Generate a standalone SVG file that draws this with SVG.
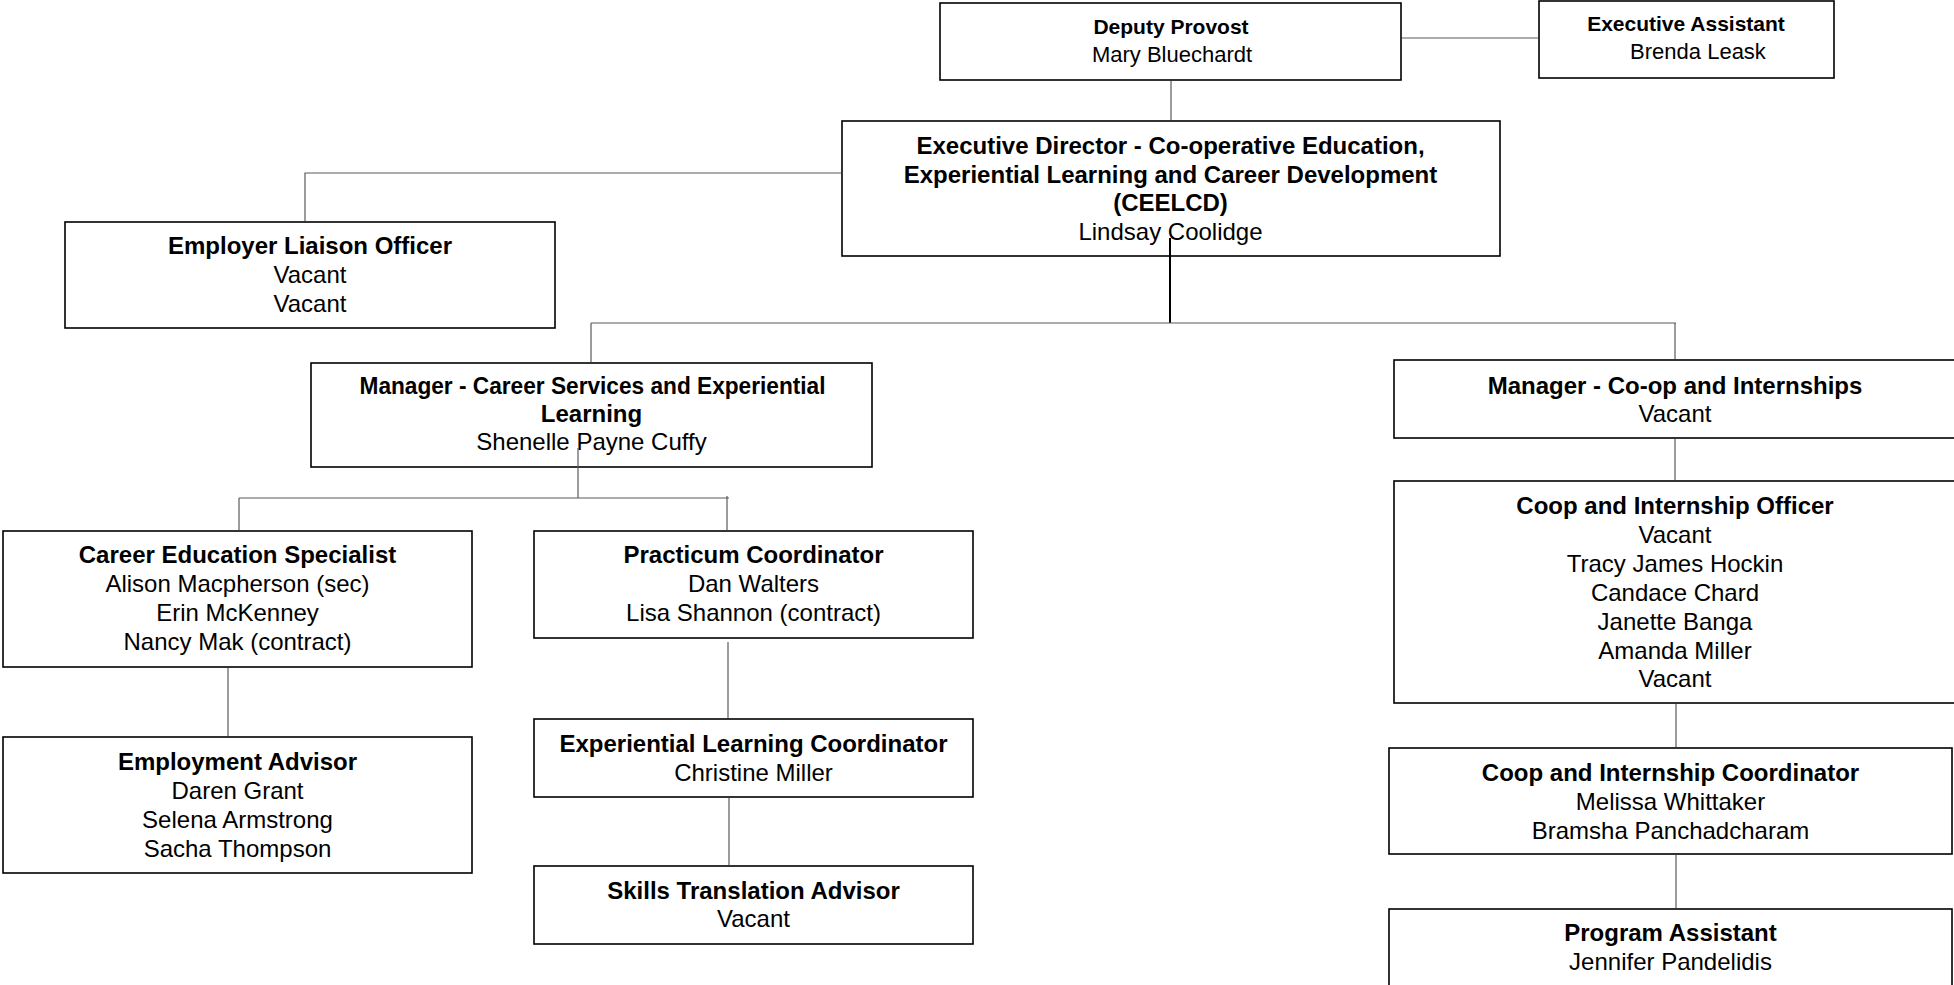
<svg xmlns="http://www.w3.org/2000/svg" width="1954" height="985" viewBox="0 0 1954 985">
<style>
.box{fill:#fff;stroke:#000;stroke-width:1.6}
.c{stroke:#5a5a5a;stroke-width:1.2;fill:none}
.t{font-family:"Liberation Sans",Arial,sans-serif;font-size:24px;fill:#000;text-anchor:middle}
.b{font-weight:bold}
.k{font-family:"Liberation Sans",Arial,sans-serif;font-size:21px;fill:#000;text-anchor:middle}
.kr{font-size:22px}
</style>
<rect width="1954" height="985" fill="#fff"/>
<g id="deputy-provost">
<rect class="box" x="940" y="3" width="461" height="77"/>
<text class="k b" x="1171" y="34">Deputy Provost</text>
<text class="k kr" x="1172" y="62">Mary Bluechardt</text>
</g>
<g id="executive-assistant">
<rect class="box" x="1539" y="1" width="295" height="77"/>
<text class="k b" x="1686" y="31">Executive Assistant</text>
<text class="k kr" x="1698" y="59">Brenda Leask</text>
</g>
<g id="executive-director">
<rect class="box" x="842" y="121" width="658" height="135"/>
<text class="t b" x="1170.5" y="154">Executive Director - Co-operative Education,</text>
<text class="t b" x="1170.5" y="182.5">Experiential Learning and Career Development</text>
<text class="t b" x="1170.5" y="211">(CEELCD)</text>
<text class="t" x="1170.5" y="239.5">Lindsay Coolidge</text>
</g>
<g id="employer-liaison">
<rect class="box" x="65" y="222" width="490" height="106"/>
<text class="t b" x="310" y="254">Employer Liaison Officer</text>
<text class="t" x="310" y="283">Vacant</text>
<text class="t" x="310" y="311.5">Vacant</text>
</g>
<g id="manager-career">
<rect class="box" x="311" y="363" width="561" height="104"/>
<text class="t b" x="592.5" y="394" textLength="466" lengthAdjust="spacingAndGlyphs">Manager - Career Services and Experiential</text>
<text class="t b" x="591.5" y="422">Learning</text>
<text class="t" x="591.5" y="450">Shenelle Payne Cuffy</text>
</g>
<g id="manager-coop">
<rect class="box" x="1394" y="360" width="570" height="78"/>
<text class="t b" x="1675" y="393.5">Manager - Co-op and Internships</text>
<text class="t" x="1675" y="422">Vacant</text>
</g>
<g id="career-education">
<rect class="box" x="3" y="531" width="469" height="136"/>
<text class="t b" x="237.5" y="563">Career Education Specialist</text>
<text class="t" x="237.5" y="592">Alison Macpherson (sec)</text>
<text class="t" x="237.5" y="621">Erin McKenney</text>
<text class="t" x="237.5" y="650">Nancy Mak (contract)</text>
</g>
<g id="practicum">
<rect class="box" x="534" y="531" width="439" height="107"/>
<text class="t b" x="753.5" y="563">Practicum Coordinator</text>
<text class="t" x="753.5" y="592">Dan Walters</text>
<text class="t" x="753.5" y="620.5">Lisa Shannon (contract)</text>
</g>
<g id="employment-advisor">
<rect class="box" x="3" y="737" width="469" height="136"/>
<text class="t b" x="237.5" y="770">Employment Advisor</text>
<text class="t" x="237.5" y="799">Daren Grant</text>
<text class="t" x="237.5" y="828">Selena Armstrong</text>
<text class="t" x="237.5" y="857">Sacha Thompson</text>
</g>
<g id="experiential-learning">
<rect class="box" x="534" y="719" width="439" height="78"/>
<text class="t b" x="753.5" y="752">Experiential Learning Coordinator</text>
<text class="t" x="753.5" y="781">Christine Miller</text>
</g>
<g id="skills-translation">
<rect class="box" x="534" y="866" width="439" height="78"/>
<text class="t b" x="753.5" y="898.5">Skills Translation Advisor</text>
<text class="t" x="753.5" y="927">Vacant</text>
</g>
<g id="coop-officer">
<rect class="box" x="1394" y="481" width="570" height="222"/>
<text class="t b" x="1675" y="514">Coop and Internship Officer</text>
<text class="t" x="1675" y="543">Vacant</text>
<text class="t" x="1675" y="572">Tracy James Hockin</text>
<text class="t" x="1675" y="601">Candace Chard</text>
<text class="t" x="1675" y="629.5">Janette Banga</text>
<text class="t" x="1675" y="658.5">Amanda Miller</text>
<text class="t" x="1675" y="687">Vacant</text>
</g>
<g id="coop-coordinator">
<rect class="box" x="1389" y="748" width="563" height="106"/>
<text class="t b" x="1670.5" y="781">Coop and Internship Coordinator</text>
<text class="t" x="1670.5" y="810">Melissa Whittaker</text>
<text class="t" x="1670.5" y="838.5">Bramsha Panchadcharam</text>
</g>
<g id="program-assistant">
<rect class="box" x="1389" y="909" width="563" height="90"/>
<text class="t b" x="1670.5" y="941">Program Assistant</text>
<text class="t" x="1670.5" y="969.5">Jennifer Pandelidis</text>
</g>
<g id="connectors">
<line class="c" x1="1402" y1="38" x2="1538" y2="38"/>
<line class="c" x1="1171" y1="81" x2="1171" y2="120"/>
<polyline class="c" points="841,173 305,173 305,221"/>
<line x1="1170" y1="238" x2="1170" y2="323" stroke="#000" stroke-width="2"/>
<line class="c" x1="591" y1="323" x2="1676" y2="323"/>
<line class="c" x1="591" y1="323" x2="591" y2="362"/>
<line class="c" x1="1675" y1="323" x2="1675" y2="359"/>
<line class="c" x1="578" y1="448" x2="578" y2="498"/>
<line class="c" x1="239" y1="498" x2="729" y2="498"/>
<line class="c" x1="239" y1="498" x2="239" y2="530"/>
<line class="c" x1="727" y1="496" x2="727" y2="530"/>
<line class="c" x1="228" y1="668" x2="228" y2="736"/>
<line class="c" x1="728" y1="642" x2="728" y2="718"/>
<line class="c" x1="729" y1="798" x2="729" y2="865"/>
<line class="c" x1="1675" y1="439" x2="1675" y2="480"/>
<line class="c" x1="1676" y1="704" x2="1676" y2="747"/>
<line class="c" x1="1676" y1="855" x2="1676" y2="908"/>
</g>
</svg>
